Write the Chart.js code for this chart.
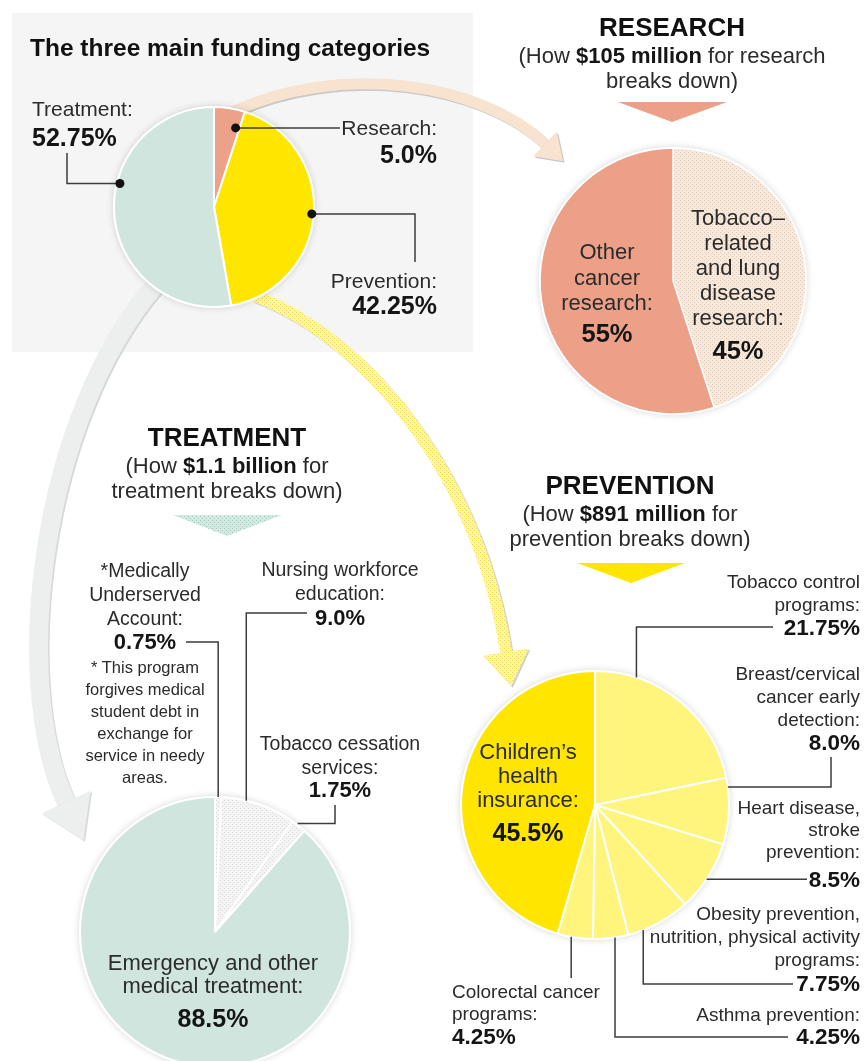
<!DOCTYPE html>
<html>
<head>
<meta charset="utf-8">
<script src="https://cdn.jsdelivr.net/npm/chart.js@4.4.1/dist/chart.umd.min.js"></script>
<style>
html, body { margin: 0; padding: 0; background: #fff; }
#page { position: relative; width: 864px; height: 1061px; overflow: hidden;
        font-family: "Liberation Sans", Arial, sans-serif; color: #2b2b2b; }
#page canvas { position: absolute; left: 0; top: 0; }
.txt { position: absolute; white-space: nowrap; }
.val { font-weight: bold; color: #151515; }
.head { font-weight: bold; font-size: 26px; color: #111; }
.sub { font-size: 22px; line-height: 25px; }
.sub b { color: #151515; }
</style>
</head>
<body>
<div id="page">
  <canvas id="mainChart" width="864" height="1100"></canvas>
  <canvas id="researchChart" width="864" height="1100"></canvas>
  <canvas id="treatmentChart" width="864" height="1100"></canvas>
  <canvas id="preventionChart" width="864" height="1100"></canvas>
  <div id="labels"></div>
</div>
<script>
// donnees
const mainLabels = ['Research', 'Prevention', 'Treatment'];
const mainValues = [5.0, 42.25, 52.75];

const researchLabels = [['Tobacco–', 'related', 'and lung', 'disease', 'research'], ['Other', 'cancer', 'research']];
const researchValues = [45, 55];

const treatmentLabels = [['*Medically', 'Underserved', 'Account'], ['Nursing workforce', 'education'],
                         ['Tobacco cessation', 'services'], ['Emergency and other', 'medical treatment']];
const treatmentValues = [0.75, 9.0, 1.75, 88.5];

const preventionLabels = [['Tobacco control', 'programs'], ['Breast/cervical', 'cancer early', 'detection'],
                          ['Heart disease,', 'stroke', 'prevention'],
                          ['Obesity prevention,', 'nutrition, physical activity', 'programs'],
                          ['Asthma prevention'], ['Colorectal cancer', 'programs'], ['Children’s', 'health', 'insurance']];
const preventionValues = [21.75, 8.0, 8.5, 7.75, 4.25, 4.25, 45.5];

const W = 864, H = 1100;

// motif a points pour les zones tramees
function dots(bg, dot) {
    const c = document.createElement('canvas');
    c.width = 4; c.height = 4;
    const x = c.getContext('2d');
    x.fillStyle = bg; x.fillRect(0, 0, 4, 4);
    x.fillStyle = dot; x.fillRect(0, 0, 1, 1); x.fillRect(2, 2, 1, 1);
    return x.createPattern(c, 'repeat');
}

function fmt(v, d) {
    return (Number.isInteger(v) ? v.toFixed(d) : String(v)) + '%';
}

// fleches decoratives et fond gris
const arrows = [
    { pts: [[232, 112], [340, 62], [480, 82], [545, 144]], w: 11, hl: 25, hw: 17, fill: '#f8e2d0', edge: '#c8c8c8' },
    { pts: [[155, 285], [40, 420], [10, 680], [66, 802]], w: 19, hl: 42, hw: 27, fill: '#edefee', edge: '#d6d9d7' },
    { pts: [[255, 296], [370, 340], [480, 480], [506, 652]], w: 12, hl: 35, hw: 23, fill: dots('#fff4ac', '#f0d84a'), edge: '#cfcfcf' }
];
const triangles = [
    { pts: [[618, 102], [727, 102], [672, 122]], fill: '#eca088' },
    { pts: [[173, 515], [282, 515], [227, 536]], fill: dots('#d4e9e1', '#9fcbbb') },
    { pts: [[577, 563], [685, 563], [631, 583]], fill: '#ffe500' }
];

function drawArrow(ctx, a) {
    const [p0, c1, c2, p3] = a.pts;
    const L = Math.hypot(p3[0] - c2[0], p3[1] - c2[1]);
    const ux = (p3[0] - c2[0]) / L, uy = (p3[1] - c2[1]) / L;
    const head = [[p3[0] + ux * a.hl, p3[1] + uy * a.hl],
                  [p3[0] - uy * a.hw, p3[1] + ux * a.hw],
                  [p3[0] + uy * a.hw, p3[1] - ux * a.hw]];
    [[1.5, a.edge], [0, a.fill]].forEach(([o, col]) => {
        ctx.beginPath();
        ctx.moveTo(p0[0] + o, p0[1] + o);
        ctx.bezierCurveTo(c1[0] + o, c1[1] + o, c2[0] + o, c2[1] + o, p3[0] + o, p3[1] + o);
        ctx.lineWidth = a.w;
        ctx.lineCap = 'butt';
        ctx.strokeStyle = col;
        ctx.stroke();
        ctx.beginPath();
        head.forEach((p, i) => i ? ctx.lineTo(p[0] + o, p[1] + o) : ctx.moveTo(p[0] + o, p[1] + o));
        ctx.closePath();
        ctx.fillStyle = col;
        ctx.fill();
    });
}

const decorPlugin = {
    id: 'decor',
    beforeDraw(chart) {
        const ctx = chart.ctx;
        ctx.save();
        ctx.fillStyle = '#f5f5f5';
        ctx.fillRect(12, 13, 461, 339);
        arrows.forEach(a => drawArrow(ctx, a));
        triangles.forEach(t => {
            ctx.beginPath();
            t.pts.forEach((p, i) => i ? ctx.lineTo(p[0], p[1]) : ctx.moveTo(p[0], p[1]));
            ctx.closePath();
            ctx.fillStyle = t.fill;
            ctx.fill();
        });
        ctx.restore();
    }
};

// ombre legere autour des camemberts
const ringPlugin = {
    id: 'ring',
    beforeDatasetsDraw(chart) {
        const a = chart.getDatasetMeta(0).data[0];
        const ctx = chart.ctx;
        ctx.save();
        ctx.shadowColor = 'rgba(0,0,0,0.16)';
        ctx.shadowBlur = 7;
        ctx.beginPath();
        ctx.arc(a.x, a.y, a.outerRadius + 1, 0, Math.PI * 2);
        ctx.fillStyle = '#fff';
        ctx.fill();
        ctx.restore();
    }
};

// traits de rappel : depart sur la part, puis segments H / V
const leaderPlugin = {
    id: 'leaders',
    afterDatasetsDraw(chart, args, opts) {
        const ctx = chart.ctx;
        const arcs = chart.getDatasetMeta(0).data;
        ctx.save();
        ctx.strokeStyle = '#3c3c3c';
        ctx.lineWidth = 1.5;
        (opts.list || []).forEach(l => {
            const a = arcs[l.i];
            const ang = a.startAngle + l.t * (a.endAngle - a.startAngle);
            let x = a.x + Math.cos(ang) * a.outerRadius * l.rf;
            let y = a.y + Math.sin(ang) * a.outerRadius * l.rf;
            const x0 = x, y0 = y;
            ctx.beginPath();
            ctx.moveTo(x, y);
            l.path.forEach(([d, v]) => {
                if (d === 'H') x = v; else y = v;
                ctx.lineTo(x, y);
            });
            ctx.stroke();
            if (l.dot) {
                ctx.beginPath();
                ctx.arc(x0, y0, 4.5, 0, Math.PI * 2);
                ctx.fillStyle = '#111';
                ctx.fill();
            }
        });
        ctx.restore();
    }
};

function makePie(id, labels, values, colors, cx, cy, r, border, leaders, extra) {
    const R = r + 5;
    return new Chart(document.getElementById(id), {
        type: 'pie',
        data: {
            labels: labels,
            datasets: [{
                data: values,
                backgroundColor: colors,
                borderColor: '#ffffff',
                borderWidth: border,
                radius: r,
                hoverOffset: 0
            }]
        },
        options: {
            responsive: false,
            animation: false,
            events: [],
            layout: { padding: { left: cx - R, right: W - cx - R, top: cy - R, bottom: H - cy - R } },
            plugins: {
                legend: { display: false },
                tooltip: { enabled: false },
                leaders: { list: leaders }
            }
        },
        plugins: extra.concat([ringPlugin, leaderPlugin])
    });
}

const grey = dots('#f3f4f3', '#d9dbd9');

makePie('mainChart', mainLabels, mainValues, ['#eca189', '#ffe600', '#d0e5dd'], 214, 207, 100, 2, [
    { i: 0, t: 0.85, rf: 0.82, path: [['H', 340]], dot: true },
    { i: 1, t: 0.5, rf: 0.98, path: [['H', 415], ['V', 262]], dot: true },
    { i: 2, t: 0.6, rf: 0.97, path: [['H', 67], ['V', 153]], dot: true }
], [decorPlugin]);

makePie('researchChart', researchLabels, researchValues, [dots('#f6eadf', '#e3c6b2'), '#eca088'], 673, 281, 133, 1.5, [], []);

makePie('treatmentChart', treatmentLabels, treatmentValues, [grey, grey, grey, '#d0e5dd'], 215, 932, 135, 2, [
    { i: 0, t: 0.5, rf: 1, path: [['V', 642], ['H', 186]] },
    { i: 1, t: 0.33, rf: 1, path: [['V', 613], ['H', 307]] },
    { i: 2, t: 0.35, rf: 1.01, path: [['H', 335], ['V', 805]] }
], []);

const lightYellow = '#fff47c';
makePie('preventionChart', preventionLabels, preventionValues,
    [lightYellow, lightYellow, lightYellow, lightYellow, lightYellow, lightYellow, '#ffe500'], 595, 805, 134, 2, [
    { i: 0, t: 0.23, rf: 1, path: [['V', 627], ['H', 773]] },
    { i: 1, t: 0.14, rf: 1, path: [['H', 831], ['V', 757]] },
    { i: 2, t: 0.54, rf: 1, path: [['H', 807]] },
    { i: 3, t: 0.76, rf: 1, path: [['V', 984], ['H', 793]] },
    { i: 4, t: 0.38, rf: 1, path: [['V', 1037], ['H', 788]] },
    { i: 5, t: 0.61, rf: 1, path: [['V', 978]] }
], []);

// textes
const box = document.getElementById('labels');

function place(html, x, y, align, fs, lh, cls) {
    const d = document.createElement('div');
    d.className = 'txt ' + (cls || '');
    d.innerHTML = html;
    d.style.fontSize = fs + 'px';
    d.style.lineHeight = lh + 'px';
    d.style.top = (y - lh / 2) + 'px';
    d.style.textAlign = align;
    if (align === 'right') {
        d.style.right = (W - x) + 'px';
    } else if (align === 'center') {
        d.style.left = x + 'px';
        d.style.transform = 'translateX(-50%)';
    } else {
        d.style.left = x + 'px';
    }
    box.appendChild(d);
}

function addLabels(names, values, dec, layout, fs, vfs) {
    names.forEach((n, i) => {
        const L = layout[i];
        const lines = (Array.isArray(n) ? n : [n]).slice();
        lines[lines.length - 1] += ':';
        place(lines.join('<br>'), L.x, L.y, L.align, L.fs || fs, L.lh || 25);
        place(fmt(values[i], dec), L.x, L.vy, L.align, L.vfs || vfs, 28, 'val');
    });
}

addLabels(mainLabels, mainValues, 1, [
    { x: 437, align: 'right', y: 127, vy: 154 },
    { x: 437, align: 'right', y: 280, vy: 305 },
    { x: 32, align: 'left', y: 108, vy: 137 }
], 21, 25);

addLabels(researchLabels, researchValues, 0, [
    { x: 738, align: 'center', y: 217, lh: 25, vy: 350 },
    { x: 607, align: 'center', y: 252, lh: 25.5, vy: 333 }
], 22, 25.5);

addLabels(treatmentLabels, treatmentValues, 1, [
    { x: 145, align: 'center', y: 570, lh: 24, vy: 642 },
    { x: 340, align: 'center', y: 570, lh: 23.5, vy: 618 },
    { x: 340, align: 'center', y: 743, lh: 24, vy: 790 },
    { x: 213, align: 'center', y: 962, lh: 23, vy: 1018, fs: 22, vfs: 25 }
], 19.5, 22);

addLabels(preventionLabels, preventionValues, 1, [
    { x: 860, align: 'right', y: 581, lh: 23, vy: 628 },
    { x: 860, align: 'right', y: 673, lh: 23, vy: 743 },
    { x: 860, align: 'right', y: 808, lh: 22, vy: 880 },
    { x: 860, align: 'right', y: 913, lh: 23, vy: 984 },
    { x: 860, align: 'right', y: 1014, lh: 23, vy: 1037 },
    { x: 452, align: 'left', y: 992, lh: 22, vy: 1037 },
    { x: 528, align: 'center', y: 752, lh: 24, vy: 832, fs: 22, vfs: 25 }
], 19, 22.5);

place('* This program<br>forgives medical<br>student debt in<br>exchange for<br>service in needy<br>areas.', 145, 667, 'center', 16.5, 22);

place('The three main funding categories', 30, 48, 'left', 24.5, 30, 'head');
place('RESEARCH', 672, 27, 'center', 26, 30, 'head');
place('(How <b>$105 million</b> for research<br>breaks down)', 672, 55, 'center', 22, 25, 'sub');
place('TREATMENT', 227, 437, 'center', 26, 30, 'head');
place('(How <b>$1.1 billion</b> for<br>treatment breaks down)', 227, 465, 'center', 22, 25, 'sub');
place('PREVENTION', 630, 485, 'center', 26, 30, 'head');
place('(How <b>$891 million</b> for<br>prevention breaks down)', 630, 513, 'center', 22, 25, 'sub');
</script>
</body>
</html>
